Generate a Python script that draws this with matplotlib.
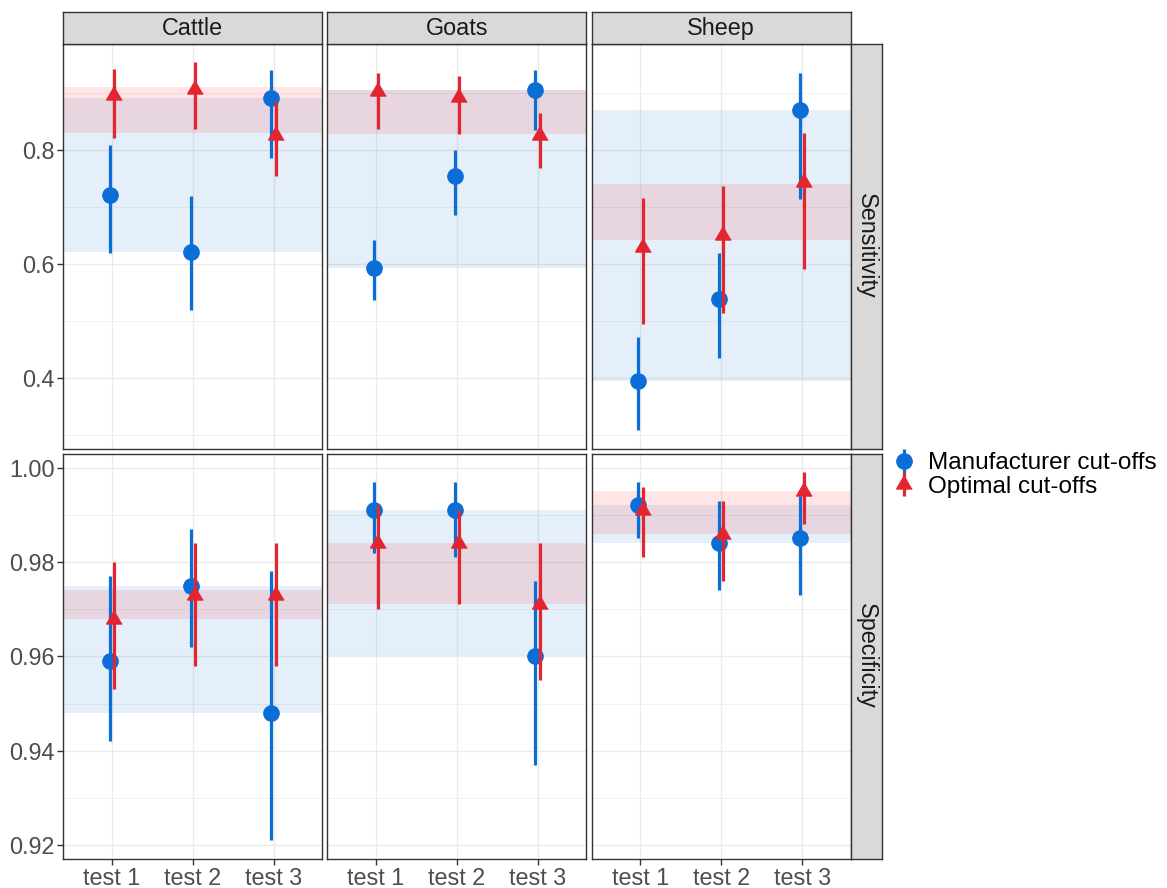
import matplotlib.pyplot as plt
import numpy as np
from matplotlib.ticker import FormatStrFormatter

plt.rcParams['font.family'] = ['Liberation Sans', 'DejaVu Sans']

species = ['Cattle', 'Goats', 'Sheep']
tests = ['test 1', 'test 2', 'test 3']
measures = ['Sensitivity', 'Specificity']
series = ['Manufacturer cut-offs', 'Optimal cut-offs']

# Sensitivity: one list per species (test 1..3)
sens_man_est = [[0.720, 0.620, 0.890], [0.592, 0.753, 0.905], [0.395, 0.539, 0.869]]
sens_man_lo = [[0.619, 0.519, 0.785], [0.536, 0.685, 0.834], [0.308, 0.434, 0.713]]
sens_man_hi = [[0.808, 0.718, 0.940], [0.641, 0.800, 0.939], [0.471, 0.618, 0.935]]
sens_opt_est = [[0.895, 0.906, 0.826], [0.902, 0.893, 0.826], [0.629, 0.650, 0.743]]
sens_opt_lo = [[0.821, 0.836, 0.753], [0.836, 0.828, 0.767], [0.494, 0.514, 0.590]]
sens_opt_hi = [[0.942, 0.953, 0.886], [0.934, 0.929, 0.865], [0.716, 0.736, 0.829]]

# Specificity
spec_man_est = [[0.959, 0.975, 0.948], [0.991, 0.991, 0.960], [0.992, 0.984, 0.985]]
spec_man_lo = [[0.942, 0.962, 0.921], [0.982, 0.981, 0.937], [0.985, 0.974, 0.973]]
spec_man_hi = [[0.977, 0.987, 0.978], [0.997, 0.997, 0.976], [0.997, 0.993, 0.994]]
spec_opt_est = [[0.968, 0.973, 0.973], [0.984, 0.984, 0.971], [0.991, 0.986, 0.995]]
spec_opt_lo = [[0.953, 0.958, 0.958], [0.970, 0.971, 0.955], [0.981, 0.976, 0.988]]
spec_opt_hi = [[0.980, 0.984, 0.984], [0.992, 0.991, 0.984], [0.996, 0.993, 0.999]]

# shaded bands (low, high) per species
sens_band_man = [(0.620, 0.890), (0.593, 0.904), (0.395, 0.869)]
sens_band_opt = [(0.829, 0.909), (0.828, 0.904), (0.642, 0.739)]
spec_band_man = [(0.948, 0.975), (0.960, 0.991), (0.984, 0.992)]
spec_band_opt = [(0.968, 0.974), (0.971, 0.984), (0.986, 0.995)]

DATA = {
    'Sensitivity': [(sens_man_est, sens_man_lo, sens_man_hi, sens_band_man),
                    (sens_opt_est, sens_opt_lo, sens_opt_hi, sens_band_opt)],
    'Specificity': [(spec_man_est, spec_man_lo, spec_man_hi, spec_band_man),
                    (spec_opt_est, spec_opt_lo, spec_opt_hi, spec_band_opt)],
}
MAJOR = {'Sensitivity': [0.4, 0.6, 0.8],
         'Specificity': [0.92, 0.94, 0.96, 0.98, 1.00]}
MINOR = {'Sensitivity': [0.3, 0.5, 0.7, 0.9],
         'Specificity': [0.93, 0.95, 0.97, 0.99]}
FMT = {'Sensitivity': '%.1f', 'Specificity': '%.2f'}

CLRS = ['#0A6ED6', '#E2252F']
BAND_CLRS = ['#0066CC', '#FF0000']
TRI = [(0, 1), (-0.866, -0.5), (0.866, -0.5)]
MARKERS = ['o', TRI]
MS = [11, 13]
OFF = [-0.028, 0.028]

W, H = 1167, 888
fig = plt.figure(figsize=(W / 100, H / 100), dpi=100)


def frac(x0, y0, x1, y1):
    # pixel box (top-left origin) -> figure fraction rect
    return [x0 / W, 1 - y1 / H, (x1 - x0) / W, (y1 - y0) / H]


col_x = [63.3, 327.3, 591.7]
pw = 259.0
row_y = [(44.0, 448.7), (454.0, 858.7)]
edge = '#333333'
x = np.arange(1, len(tests) + 1)
handles = None

for r, meas in enumerate(measures):
    allv = [v for s in DATA[meas] for arr in s[1:3] for row in arr for v in row]
    lo, hi = min(allv), max(allv)
    pad = (hi - lo) * 0.05
    for c, sp in enumerate(species):
        ax = fig.add_axes(frac(col_x[c], row_y[r][0], col_x[c] + pw, row_y[r][1]))
        ax.set_xlim(0.4, 3.6)
        ax.set_ylim(lo - pad, hi + pad)
        ax.set_axisbelow(True)
        ax.set_xticks(x)
        ax.set_yticks(MAJOR[meas])
        ax.set_yticks(MINOR[meas], minor=True)
        ax.grid(which='major', color='#EBEBEB', lw=1.0)
        ax.grid(which='minor', axis='y', color='#EBEBEB', lw=0.5)
        ax.tick_params(which='minor', length=0)
        ax.tick_params(which='major', length=4, width=1, color=edge,
                       labelsize=16.8, labelcolor='#4D4D4D', pad=2)
        ax.yaxis.set_major_formatter(FormatStrFormatter(FMT[meas]))
        if c == 0:
            ax.set_yticklabels([FMT[meas] % v for v in MAJOR[meas]])
        else:
            ax.tick_params(axis='y', length=0, labelleft=False)
        if r == 1:
            ax.set_xticklabels(tests)
        else:
            ax.tick_params(axis='x', length=0, labelbottom=False)
        for s in ax.spines.values():
            s.set_color(edge)
            s.set_linewidth(1.0)

        hs = []
        for k, (est, elo, ehi, band) in enumerate(DATA[meas]):
            ax.axhspan(band[c][0], band[c][1], color=BAND_CLRS[k], alpha=0.1,
                       lw=0, zorder=1)
            e = np.array(est[c])
            yerr = [e - np.array(elo[c]), np.array(ehi[c]) - e]
            h = ax.errorbar(x + OFF[k], e, yerr=yerr, ls='none',
                            marker=MARKERS[k], ms=MS[k], color=CLRS[k],
                            mec=CLRS[k], elinewidth=2.3, capsize=0, zorder=3 + k)
            hs.append(h)
        if handles is None:
            handles = hs

        # strips
        if r == 0:
            sax = fig.add_axes(frac(col_x[c], 12, col_x[c] + pw, 44))
            sax.set_facecolor('#D9D9D9')
            sax.set_xticks([])
            sax.set_yticks([])
            for s in sax.spines.values():
                s.set_color(edge)
                s.set_linewidth(1.0)
            sax.text(0.5, 0.5, sp, ha='center', va='center', fontsize=16.8,
                     color='#1A1A1A', transform=sax.transAxes)
    rax = fig.add_axes(frac(850.7, row_y[r][0], 882.3, row_y[r][1]))
    rax.set_facecolor('#D9D9D9')
    rax.set_xticks([])
    rax.set_yticks([])
    for s in rax.spines.values():
        s.set_color(edge)
        s.set_linewidth(1.0)
    rax.text(0.5, 0.5, meas, ha='center', va='center', rotation=-90,
             fontsize=16.8, color='#1A1A1A', transform=rax.transAxes)

fig.legend(handles, series, loc='center left', bbox_to_anchor=(882 / W, 1 - 475 / H),
           frameon=False, fontsize=17.5, handlelength=1.0, handletextpad=0.5,
           labelspacing=0.05, borderaxespad=0)

fig.savefig('out.png', dpi=100)
